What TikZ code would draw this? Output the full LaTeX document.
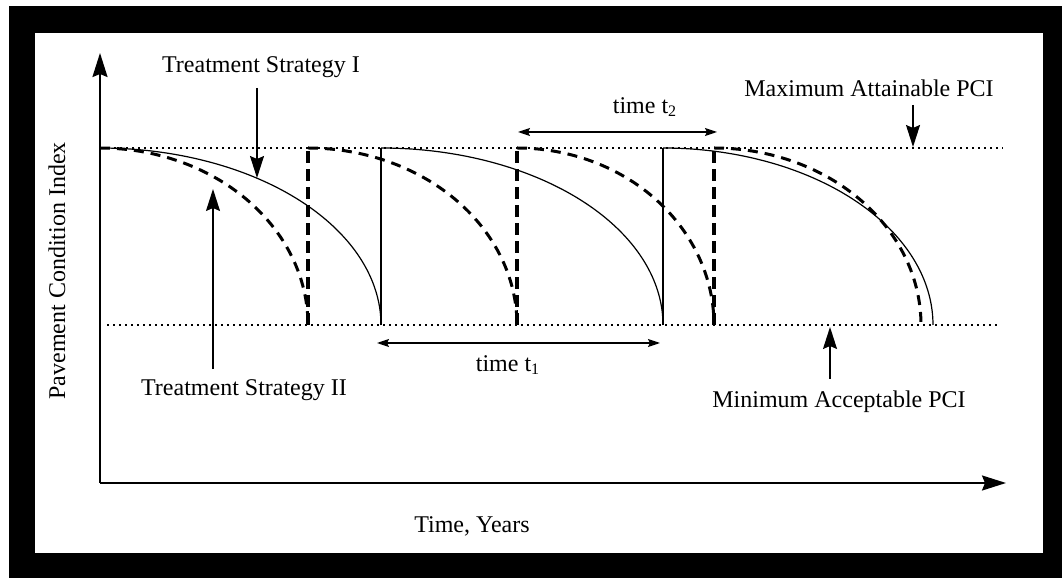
\documentclass[tikz,border=0pt]{standalone}
\usepackage{fontspec}
\setmainfont{Liberation Serif}
\usetikzlibrary{arrows.meta}
\begin{document}
\begin{tikzpicture}[x=0.5pt,y=-0.5pt,
  lbl/.style={font=\fontsize{12}{14}\selectfont, inner sep=0pt},
  axis/.style={line width=1pt, -{Stealth[length=12pt,width=7.5pt,inset=1.5pt]}},
  pointer/.style={line width=0.7pt, -{Stealth[length=11pt,width=7pt,inset=1.5pt]}},
  span/.style={line width=0.7pt, {Stealth[length=6pt,width=4pt,inset=1pt]}-{Stealth[length=6pt,width=4pt,inset=1pt]}},
  level/.style={line width=1pt, dash pattern=on 1pt off 2pt},
  stratI/.style={line width=0.6pt},
  stratII/.style={line width=1.5pt, dash pattern=on 5pt off 3.5pt},
  renewI/.style={line width=0.7pt},
  renewII/.style={line width=2pt, dash pattern=on 6pt off 3pt},
]
% frame
\fill[white] (0,0) rectangle (1064,581);
\fill[black] (9,6) rectangle (1062,578);
\fill[white] (35,33) rectangle (1043,553);

% axes
\coordinate (O) at (100,483);
\coordinate (ytop) at (100,53);
\coordinate (xend) at (1006,483);
\draw[axis] (O) -- (ytop);
\draw[axis] (O) -- (xend);

% maximum and minimum PCI levels
\coordinate (maxL) at (102,148);
\coordinate (maxR) at (1003,148);
\coordinate (minL) at (107,325);
\coordinate (minR) at (998,325);
\draw[level] (maxL) -- (maxR);
\draw[level] (minL) -- (minR);

% strategy I: deterioration curves and renewals
\foreach \s/\w in {100/281,381/282,663/270}
  \draw[stratI] plot[domain=0:90,samples=80,smooth,variable=\t]
    ({\s+\w*sin(\t)},{325-177*cos(\t)});
\foreach \x in {381,663}
  \draw[renewI] (\x,325) -- (\x,148);

% strategy II: deterioration curves and renewals
\foreach \s/\w in {100/208,308/209,517/197,714/207}
  \draw[stratII] plot[domain=0:90,samples=80,smooth,variable=\t]
    ({\s+\w*sin(\t)},{325-177*cos(\t)});
\foreach \x in {308,517,714}
  \draw[renewII] (\x,325) -- (\x,148);

% labels
\node[lbl, rotate=90] (ylab) at (57,271) {Pavement Condition Index};
\node[lbl] (xlab) at (472,526) {Time, Years};
\node[lbl] (tsI) at (261,67) {Treatment Strategy I};
\node[lbl] (tsII) at (244,390) {Treatment Strategy II};
\node[lbl] (maxpci) at (869,88) {Maximum Attainable PCI};
\node[lbl] (minpci) at (839,402) {Minimum Acceptable PCI};
\node[lbl] (t2) at (645,107) {time t\textsubscript{2}};
\node[lbl] (t1) at (508,365) {time t\textsubscript{1}};

% pointers
\coordinate (tsItip) at (257,178);
\coordinate (tsIItip) at (213,189);
\coordinate (maxtip) at (913,147);
\coordinate (mintip) at (830,327);
\draw[pointer, shorten <=5pt] (tsI.south -| tsItip) -- (tsItip);
\draw[pointer, shorten <=5pt] (tsII.north -| tsIItip) -- (tsIItip);
\draw[pointer, shorten <=4pt] (maxpci.south -| maxtip) -- (maxtip);
\draw[pointer, shorten <=6pt] (minpci.north -| mintip) -- (mintip);

% time spans
\coordinate (t2a) at (518,132);
\coordinate (t2b) at (717,132);
\coordinate (t1a) at (377,343);
\coordinate (t1b) at (660,343);
\draw[span] (t2a) -- (t2b);
\draw[span] (t1a) -- (t1b);
\end{tikzpicture}
\end{document}
